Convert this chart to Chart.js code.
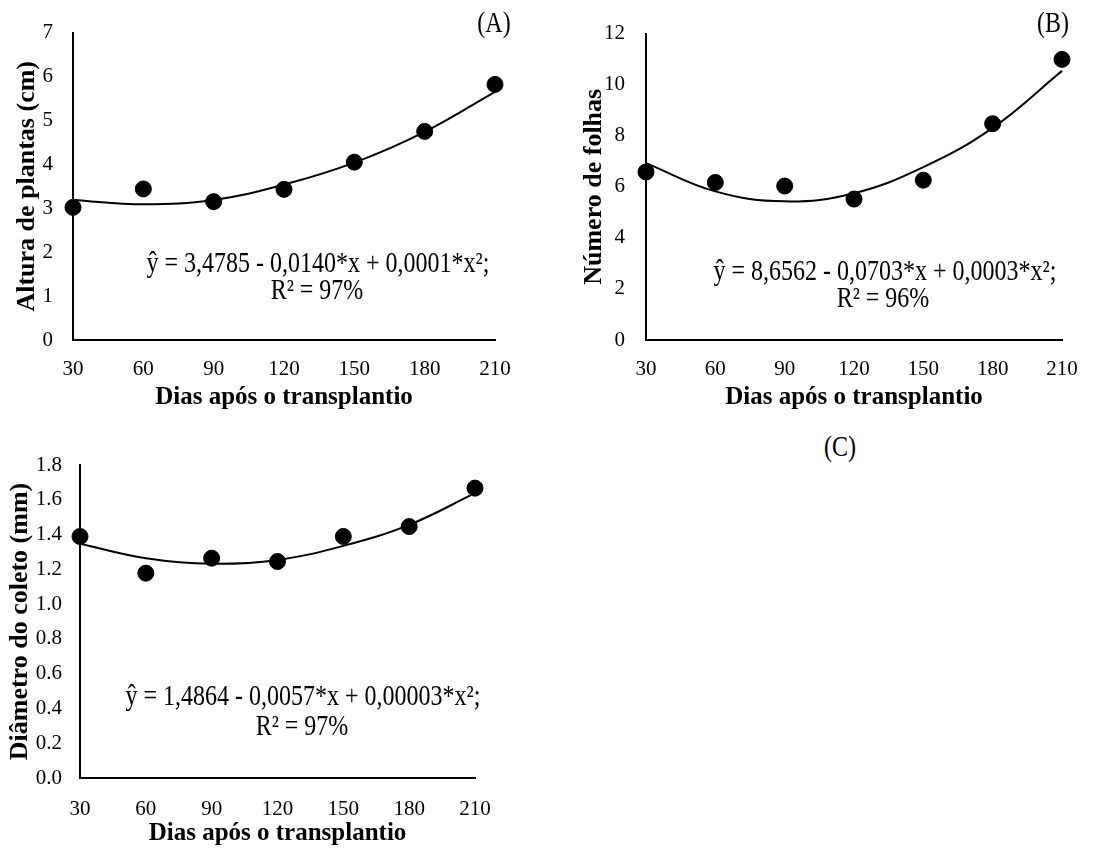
<!DOCTYPE html>
<html>
<head>
<meta charset="utf-8">
<script src="https://cdn.jsdelivr.net/npm/chart.js@4"></script>
<style>
  html, body { margin: 0; padding: 0; background: #fff; }
  body { width: 1119px; height: 849px; position: relative; overflow: hidden; font-family: "Liberation Serif", "Times New Roman", serif; }
  .box { position: absolute; }
  .note { position: absolute; font-size: 24px; line-height: 28px; color: #000; text-align: center; white-space: nowrap; transform: translate(-50%, -50%) scale(1, 1.22); }
</style>
</head>
<body>
<div class="box" style="left:0;top:0;width:545px;height:420px"><canvas id="chartA"></canvas></div>
<div class="box" style="left:560px;top:0;width:559px;height:420px"><canvas id="chartB"></canvas></div>
<div class="box" style="left:0;top:420px;width:560px;height:429px"><canvas id="chartC"></canvas></div>

<div class="note" style="left:494px;top:22px">(A)</div>
<div class="note" style="left:1053px;top:22px">(B)</div>
<div class="note" style="left:840px;top:446px">(C)</div>

<div class="note" style="left:318px;top:262px">ŷ = 3,4785 - 0,0140*x + 0,0001*x²;</div>
<div class="note" style="left:317px;top:289px">R² = 97%</div>
<div class="note" style="left:885px;top:270px">ŷ = 8,6562 - 0,0703*x + 0,0003*x²;</div>
<div class="note" style="left:883px;top:297px">R² = 96%</div>
<div class="note" style="left:303px;top:695px">ŷ = 1,4864 - 0,0057*x + 0,00003*x²;</div>
<div class="note" style="left:302px;top:725px">R² = 97%</div>

<script>
// ===== Data =====
const days = [30, 60, 90, 120, 150, 180, 210];

// (A) Altura de plantas (cm)
const alturaObs = [3.02, 3.44, 3.15, 3.43, 4.05, 4.75, 5.82];
const alturaFit = [3.19, 3.09, 3.19, 3.54, 4.04, 4.74, 5.65];

// (B) Número de folhas
const folhasObs = [6.58, 6.17, 6.03, 5.52, 6.26, 8.47, 10.99];
const folhasFit = [6.93, 5.82, 5.43, 5.75, 6.77, 8.31, 10.54];

// (C) Diâmetro do coleto (mm)
const diametroObs = [1.389, 1.178, 1.264, 1.245, 1.389, 1.446, 1.667];
const diametroFit = [1.347, 1.264, 1.232, 1.254, 1.335, 1.456, 1.638];

const xTitle = 'Dias após o transplantio';

const serif = '"Liberation Serif", "Times New Roman", serif';

function toXY(xs, ys) {
  return xs.map((x, i) => ({ x: x, y: ys[i] }));
}

function makeChart(id, cfg) {
  const ctx = document.getElementById(id).getContext('2d');
  return new Chart(ctx, {
    type: 'scatter',
    data: {
      datasets: [
        {
          label: 'Ajuste',
          type: 'line',
          data: toXY(days, cfg.fit),
          borderColor: '#000',
          borderWidth: 2,
          pointRadius: 0,
          tension: 0.4,
          fill: false,
          clip: false
        },
        {
          label: 'Observado',
          data: toXY(days, cfg.obs),
          backgroundColor: '#000',
          borderColor: '#000',
          pointRadius: 8,
          pointHoverRadius: 8,
          clip: false
        }
      ]
    },
    options: {
      responsive: true,
      maintainAspectRatio: false,
      animation: false,
      events: [],
      layout: { padding: { left: 0, top: cfg.padTop, right: cfg.padRight, bottom: 0 } },
      plugins: { legend: { display: false }, tooltip: { enabled: false } },
      scales: {
        x: {
          type: 'linear',
          min: 30,
          max: 210,
          grid: { display: false, drawTicks: false },
          border: { display: true, color: '#000', width: 2 },
          ticks: { stepSize: 30, color: '#000', padding: cfg.xTickPad, maxRotation: 0, font: { family: serif, size: 21 } },
          title: { display: true, text: xTitle, color: '#000', font: { family: serif, size: 25, weight: 'bold' }, padding: { top: 0, bottom: cfg.xTitlePad } },
          afterFit: (scale) => { scale.height = cfg.xHeight; }
        },
        y: {
          min: 0,
          max: cfg.yMax,
          grid: { display: false, drawTicks: false },
          border: { display: true, color: '#000', width: 2 },
          ticks: {
            stepSize: cfg.yStep,
            color: '#000',
            padding: cfg.yTickPad,
            font: { family: serif, size: 21 },
            callback: cfg.yFormat
          },
          title: { display: true, text: cfg.yTitle, color: '#000', font: { family: serif, size: 26, weight: 'bold' }, padding: { top: cfg.yTitlePad, bottom: 0 } },
          afterFit: (scale) => { scale.width = cfg.yWidth; }
        }
      }
    }
  });
}

makeChart('chartA', {
  obs: alturaObs, fit: alturaFit,
  yMax: 7, yStep: 1, yFormat: (v) => v,
  yTitle: 'Altura de plantas (cm)',
  padTop: 27, padRight: 50, xHeight: 80, yWidth: 73,
  xTickPad: 17, yTickPad: 20, yTitlePad: 12, xTitlePad: 7
});

makeChart('chartB', {
  obs: folhasObs, fit: folhasFit,
  yMax: 12, yStep: 2, yFormat: (v) => v,
  yTitle: 'Número de folhas',
  padTop: 27, padRight: 57, xHeight: 80, yWidth: 86,
  xTickPad: 17, yTickPad: 21, yTitlePad: 19, xTitlePad: 7
});

makeChart('chartC', {
  obs: diametroObs, fit: diametroFit,
  yMax: 1.8, yStep: 0.2, yFormat: (v) => Number(v).toFixed(1),
  yTitle: 'Diâmetro do coleto (mm)',
  padTop: 45, padRight: 85, xHeight: 71, yWidth: 80,
  xTickPad: 19, yTickPad: 18, yTitlePad: 5, xTitlePad: 0
});
</script>
</body>
</html>
